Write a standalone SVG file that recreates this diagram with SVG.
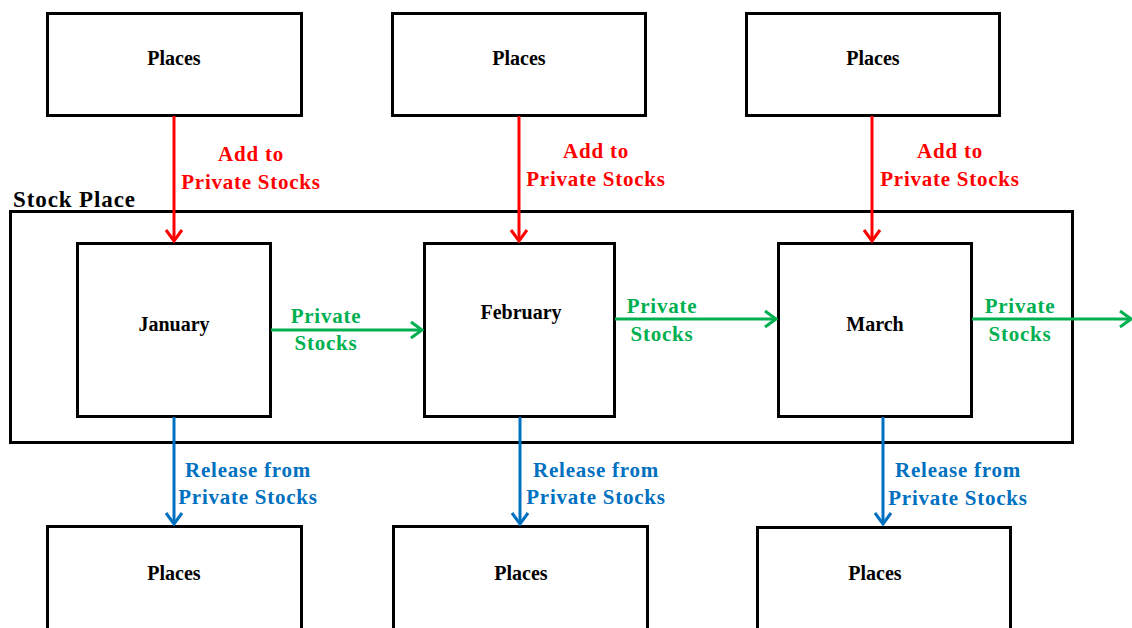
<svg xmlns="http://www.w3.org/2000/svg" width="1132" height="628" viewBox="0 0 1132 628">
  <style>
    .box { fill: #ffffff; stroke: #000000; stroke-width: 3; }
    .frame { fill: none; stroke: #000000; stroke-width: 3; }
    .name { font-family: "Liberation Serif", "Times New Roman", serif; font-weight: bold; font-size: 20px; fill: #000000; text-anchor: middle; }
    .title { font-family: "Liberation Serif", "Times New Roman", serif; font-weight: bold; font-size: 23px; fill: #000000; letter-spacing: 0.9px; }
    .lbl { font-family: "Liberation Serif", "Times New Roman", serif; font-weight: bold; font-size: 21px; text-anchor: middle; letter-spacing: 0.75px; }
    .add { stroke: #ff0000; stroke-width: 3; fill: none; }
    .flow { stroke: #00b050; stroke-width: 3; fill: none; }
    .rel { stroke: #0070c0; stroke-width: 3; fill: none; }
    .addT { fill: #ff0000; }
    .flowT { fill: #00b050; }
    .relT { fill: #0070c0; }
  </style>
  <defs>
    <marker id="headRed" markerUnits="userSpaceOnUse" markerWidth="24" markerHeight="24" viewBox="-14 -12 16 24" refX="0" refY="0" orient="auto">
      <path d="M-11,-8 L0,0 L-11,8" fill="none" stroke="#ff0000" stroke-width="3"/>
    </marker>
    <marker id="headGreen" markerUnits="userSpaceOnUse" markerWidth="24" markerHeight="24" viewBox="-14 -12 16 24" refX="0" refY="0" orient="auto">
      <path d="M-11,-8 L0,0 L-11,8" fill="none" stroke="#00b050" stroke-width="3"/>
    </marker>
    <marker id="headBlue" markerUnits="userSpaceOnUse" markerWidth="24" markerHeight="24" viewBox="-14 -12 16 24" refX="0" refY="0" orient="auto">
      <path d="M-11,-8 L0,0 L-11,8" fill="none" stroke="#0070c0" stroke-width="3"/>
    </marker>
  </defs>

  <!-- Stock Place container -->
  <g id="stock-place">
    <rect class="frame" x="10.5" y="211.5" width="1062" height="231"/>
    <text class="title" x="13" y="207">Stock Place</text>
  </g>

  <!-- Source places (top row) -->
  <g id="places-top-1">
    <rect class="box" x="47.5" y="13.5" width="254" height="102"/>
    <text class="name" x="174" y="65">Places</text>
  </g>
  <g id="places-top-2">
    <rect class="box" x="392.5" y="13.5" width="253" height="102"/>
    <text class="name" x="519" y="65">Places</text>
  </g>
  <g id="places-top-3">
    <rect class="box" x="746.5" y="13.5" width="253" height="102"/>
    <text class="name" x="873" y="65">Places</text>
  </g>

  <!-- Monthly stocks -->
  <g id="january">
    <rect class="box" x="77.5" y="243.5" width="193" height="173"/>
    <text class="name" x="174" y="331">January</text>
  </g>
  <g id="february">
    <rect class="box" x="424.5" y="243.5" width="190" height="173"/>
    <text class="name" x="521" y="319">February</text>
  </g>
  <g id="march">
    <rect class="box" x="778.5" y="243.5" width="193" height="173"/>
    <text class="name" x="875" y="331">March</text>
  </g>

  <!-- Destination places (bottom row) -->
  <g id="places-bottom-1">
    <rect class="box" x="47.5" y="526.5" width="254" height="110"/>
    <text class="name" x="174" y="580">Places</text>
  </g>
  <g id="places-bottom-2">
    <rect class="box" x="393.5" y="526.5" width="254" height="110"/>
    <text class="name" x="521" y="580">Places</text>
  </g>
  <g id="places-bottom-3">
    <rect class="box" x="757.5" y="527.5" width="253" height="110"/>
    <text class="name" x="875" y="580">Places</text>
  </g>

  <!-- Connectors -->
  <g id="connectors">
    <line class="add" x1="174" y1="116" x2="174" y2="241" marker-end="url(#headRed)"/>
    <line class="add" x1="519" y1="116" x2="519" y2="241" marker-end="url(#headRed)"/>
    <line class="add" x1="872" y1="116" x2="872" y2="241" marker-end="url(#headRed)"/>

    <line class="flow" x1="271" y1="330" x2="422" y2="330" marker-end="url(#headGreen)"/>
    <line class="flow" x1="615" y1="319" x2="776" y2="319" marker-end="url(#headGreen)"/>
    <line class="flow" x1="972" y1="319" x2="1131" y2="319" marker-end="url(#headGreen)"/>

    <line class="rel" x1="174" y1="417" x2="174" y2="524" marker-end="url(#headBlue)"/>
    <line class="rel" x1="520" y1="417" x2="520" y2="524" marker-end="url(#headBlue)"/>
    <line class="rel" x1="883" y1="417" x2="883" y2="524" marker-end="url(#headBlue)"/>

    <text class="lbl addT" x="251" y="161">Add to</text>
    <text class="lbl addT" x="251" y="189">Private Stocks</text>
    <text class="lbl addT" x="596" y="158">Add to</text>
    <text class="lbl addT" x="596" y="186">Private Stocks</text>
    <text class="lbl addT" x="950" y="158">Add to</text>
    <text class="lbl addT" x="950" y="186">Private Stocks</text>

    <text class="lbl flowT" x="326" y="323">Private</text>
    <text class="lbl flowT" x="326" y="350">Stocks</text>
    <text class="lbl flowT" x="662" y="313">Private</text>
    <text class="lbl flowT" x="662" y="341">Stocks</text>
    <text class="lbl flowT" x="1020" y="313">Private</text>
    <text class="lbl flowT" x="1020" y="341">Stocks</text>

    <text class="lbl relT" x="248" y="477">Release from</text>
    <text class="lbl relT" x="248" y="504">Private Stocks</text>
    <text class="lbl relT" x="596" y="477">Release from</text>
    <text class="lbl relT" x="596" y="504">Private Stocks</text>
    <text class="lbl relT" x="958" y="477">Release from</text>
    <text class="lbl relT" x="958" y="505">Private Stocks</text>
  </g>
</svg>
